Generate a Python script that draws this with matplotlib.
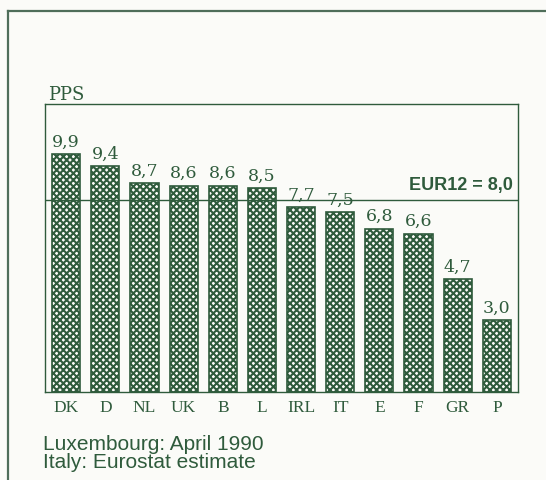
import matplotlib.pyplot as plt
from matplotlib.lines import Line2D

# Daten
countries = ['DK', 'D', 'NL', 'UK', 'B', 'L', 'IRL', 'IT', 'E', 'F', 'GR', 'P']
pps = [9.9, 9.4, 8.7, 8.6, 8.6, 8.5, 7.7, 7.5, 6.8, 6.6, 4.7, 3.0]
labels = ['9,9', '9,4', '8,7', '8,6', '8,6', '8,5', '7,7', '7,5', '6,8', '6,6', '4,7', '3,0']
eur12 = 8.0
eur12_label = 'EUR12 = 8,0'
notes = ['Luxembourg: April 1990', 'Italy: Eurostat estimate']

green = '#2f5b3c'
bg = '#fbfbf8'

plt.rcParams['hatch.linewidth'] = 1.5
plt.rcParams['hatch.color'] = green

fig = plt.figure(figsize=(5.46, 4.8), dpi=100, facecolor=bg)
ax = fig.add_axes([45 / 546, 88 / 480, 473 / 546, 288 / 480])
ax.set_facecolor(bg)

x = range(len(countries))
ax.bar(x, pps, width=0.72, color=bg, edgecolor=green, hatch='xxxxx', linewidth=1.2)

for i, (v, t) in enumerate(zip(pps, labels)):
    ax.annotate(t, (i, v), xytext=(0, 2.5), textcoords='offset points',
                ha='center', va='bottom', fontsize=12.5, color=green,
                family='DejaVu Serif')

ax.axhline(eur12, color=green, linewidth=1.0)
ax.text(11.4, eur12 + 0.25, eur12_label, ha='right', va='bottom', fontsize=13,
        fontweight='bold', color=green, family='Liberation Sans')

ax.set_xlim(-0.54, 11.54)
ax.set_ylim(0, 12)
ax.set_yticks([])
ax.set_xticks(list(x))
ax.set_xticklabels(countries, family='Liberation Serif', fontsize=12.5, color=green)
ax.tick_params(axis='x', length=0, pad=6)
for s in ax.spines.values():
    s.set_color(green)
    s.set_linewidth(1.0)

fig.text(48 / 546, 1 - 95 / 480, 'PPS', family='DejaVu Serif', fontsize=13,
         color=green, va='center')

for j, n in enumerate(notes):
    fig.text(43 / 546, 1 - (445 + 18 * j) / 480, n, family='Liberation Sans',
             fontsize=15, color=green, va='center')

# aeusserer Rahmen
fig.add_artist(Line2D([8 / 546, 8 / 546], [0, 1 - 11 / 480], color='#4f6e5a',
                      linewidth=1.6, transform=fig.transFigure))
fig.add_artist(Line2D([8 / 546, 1], [1 - 11 / 480, 1 - 11 / 480], color='#4f6e5a',
                      linewidth=1.6, transform=fig.transFigure))

plt.savefig('out.png', dpi=100, facecolor=bg)
